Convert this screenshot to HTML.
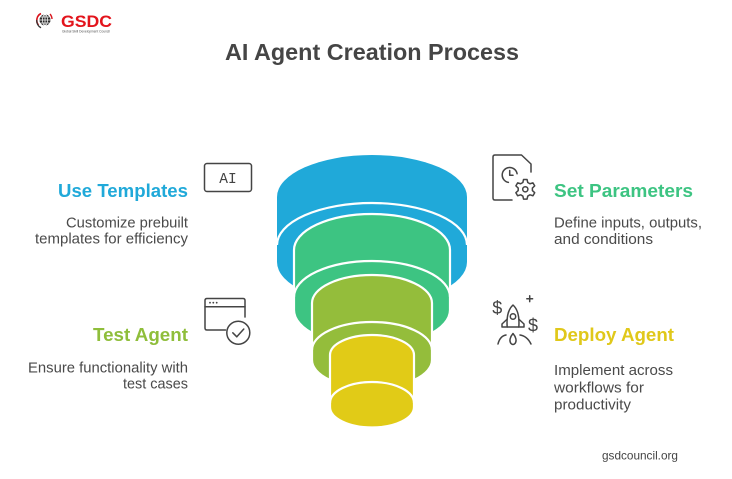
<!DOCTYPE html>
<html>
<head>
<meta charset="utf-8">
<style>
  html, body { margin: 0; padding: 0; background: #ffffff; }
  svg { display: block; }
  text { font-family: "Liberation Sans", Arial, sans-serif; }
</style>
</head>
<body>
<svg width="732" height="479" viewBox="0 0 732 479" xmlns="http://www.w3.org/2000/svg">
  <rect width="732" height="479" fill="#ffffff"/>

  <!-- Logo -->
  <g>
    <path d="M38.5 25 A7.5 7.5 0 0 1 41 13.5" fill="none" stroke="#d9141c" stroke-width="1.6"/>
    <path d="M36.8 20 A8 8 0 0 0 41 27.8" fill="none" stroke="#333" stroke-width="1.4"/>
    <circle cx="45" cy="20" r="5.5" fill="#2a2a2a"/>
    <path d="M39.5 20 H50.5 M45 14.5 V25.5 M40.5 17 H49.5 M40.5 23 H49.5" stroke="#ffffff" stroke-width="0.7"/>
    <ellipse cx="45" cy="20" rx="2.5" ry="5.5" fill="none" stroke="#ffffff" stroke-width="0.7"/>
    <path d="M50 14 A8 8 0 0 1 52 19" fill="none" stroke="#d9141c" stroke-width="1.4"/>
    <text x="61" y="27" font-size="16.5" font-weight="bold" fill="#e3141c" textLength="51" lengthAdjust="spacingAndGlyphs">GSDC</text>
    <text x="62" y="32.5" font-size="3.6" fill="#555" textLength="48" lengthAdjust="spacingAndGlyphs">Global Skill Development Council</text>
  </g>

  <!-- Title -->
  <text x="372" y="60" font-size="23" font-weight="bold" fill="#454545" text-anchor="middle" textLength="294" lengthAdjust="spacingAndGlyphs">AI Agent Creation Process</text>

  <!-- Funnel -->
  <!-- Blue -->
  <path d="M277 197 V262 A95 42 0 0 0 467 262 V197 A95 42 0 0 0 277 197 Z" fill="#20a9d9"/>
  <path d="M277 245 A95 42 0 0 1 467 245" fill="none" stroke="#ffffff" stroke-width="2.2"/>
  <!-- Green -->
  <path d="M294 250 V310 A78 36 0 0 0 450 310 V250 A78 36 0 0 0 294 250 Z" fill="#3dc482" stroke="#ffffff" stroke-width="2.2"/>
  <path d="M294 297 A78 36 0 0 1 450 297" fill="none" stroke="#ffffff" stroke-width="2.2"/>
  <!-- Olive -->
  <path d="M312 303 V360 A60 28 0 0 0 432 360 V303 A60 28 0 0 0 312 303 Z" fill="#94bd3b" stroke="#ffffff" stroke-width="2.2"/>
  <path d="M312 350 A60 28 0 0 1 432 350" fill="none" stroke="#ffffff" stroke-width="2.2"/>
  <!-- Yellow -->
  <path d="M330 355 V407 A42 20.5 0 0 0 414 407 V355 A42 20 0 0 0 330 355 Z" fill="#e1cb17" stroke="#ffffff" stroke-width="2.2"/>
  <path d="M330 403 A42 21 0 0 1 414 403" fill="none" stroke="#ffffff" stroke-width="2.2"/>

  <!-- Left labels -->
  <text x="188" y="197" font-size="18.6" font-weight="bold" fill="#20a9d9" text-anchor="end" textLength="130" lengthAdjust="spacingAndGlyphs">Use Templates</text>
  <text x="188" y="227.3" font-size="14.5" fill="#4a4a4a" text-anchor="end" textLength="122" lengthAdjust="spacingAndGlyphs">Customize prebuilt</text>
  <text x="188" y="243.5" font-size="14.5" fill="#4a4a4a" text-anchor="end" textLength="153" lengthAdjust="spacingAndGlyphs">templates for efficiency</text>

  <text x="188" y="341" font-size="18.6" font-weight="bold" fill="#8fbe3b" text-anchor="end" textLength="95" lengthAdjust="spacingAndGlyphs">Test Agent</text>
  <text x="188" y="372.3" font-size="14.5" fill="#4a4a4a" text-anchor="end" textLength="160" lengthAdjust="spacingAndGlyphs">Ensure functionality with</text>
  <text x="188" y="388.5" font-size="14.5" fill="#4a4a4a" text-anchor="end" textLength="65" lengthAdjust="spacingAndGlyphs">test cases</text>

  <!-- Right labels -->
  <text x="554" y="197" font-size="18.6" font-weight="bold" fill="#3dc482" textLength="139" lengthAdjust="spacingAndGlyphs">Set Parameters</text>
  <text x="554" y="227.3" font-size="14.5" fill="#4a4a4a" textLength="148" lengthAdjust="spacingAndGlyphs">Define inputs, outputs,</text>
  <text x="554" y="243.8" font-size="14.5" fill="#4a4a4a" textLength="99" lengthAdjust="spacingAndGlyphs">and conditions</text>

  <text x="554" y="341" font-size="18.6" font-weight="bold" fill="#e0c81a" textLength="120" lengthAdjust="spacingAndGlyphs">Deploy Agent</text>
  <text x="554" y="375" font-size="14.5" fill="#4a4a4a" textLength="119" lengthAdjust="spacingAndGlyphs">Implement across</text>
  <text x="554" y="392.3" font-size="14.5" fill="#4a4a4a" textLength="90" lengthAdjust="spacingAndGlyphs">workflows for</text>
  <text x="554" y="409.3" font-size="14.5" fill="#4a4a4a" textLength="77" lengthAdjust="spacingAndGlyphs">productivity</text>

  <text x="602" y="459.5" font-size="12" fill="#444" textLength="76" lengthAdjust="spacingAndGlyphs">gsdcouncil.org</text>

  <!-- Icon: AI box -->
  <g fill="none" stroke="#444" stroke-width="1.5" stroke-linecap="round" stroke-linejoin="round">
    <rect x="204.5" y="163.5" width="47" height="28" rx="2.5"/>
  </g>
  <text x="228" y="183" font-size="14.5" fill="#444" text-anchor="middle" style="font-family:'Liberation Mono', monospace;">AI</text>

  <!-- Icon: test window with check -->
  <g fill="none" stroke="#444" stroke-width="1.5" stroke-linecap="round" stroke-linejoin="round">
    <path d="M245 317 V300.5 Q245 298.5 243 298.5 H207 Q205 298.5 205 300.5 V328 Q205 330 207 330 H225.5"/>
    <path d="M205 306.8 H245"/>
    <circle cx="238.3" cy="332.7" r="11.5"/>
    <path d="M232.8 332.8 L236.8 336.8 L243.8 329"/>
  </g>
  <g fill="#444">
    <circle cx="210" cy="302.7" r="0.9"/>
    <circle cx="213.3" cy="302.7" r="0.9"/>
    <circle cx="216.7" cy="302.7" r="0.9"/>
  </g>

  <!-- Icon: document with clock and gear -->
  <g fill="none" stroke="#444" stroke-width="1.5" stroke-linecap="round" stroke-linejoin="round">
    <path d="M512 200 H495 Q493 200 493 198 V157 Q493 155 495 155 H521.5 L531 164 V172"/>
    <path d="M517.1 173.7 A7.5 7.5 0 1 0 508.4 182.4"/>
    <path d="M509.7 170.5 V175.3 H513"/>
    <path d="M522.84 182.53 L523.56 179.45 L527.04 179.45 L527.76 182.53 L529.93 183.78 L532.96 182.87 L534.70 185.88 L532.39 188.05 L532.39 190.55 L534.70 192.72 L532.96 195.73 L529.93 194.82 L527.76 196.07 L527.04 199.15 L523.56 199.15 L522.84 196.07 L520.67 194.82 L517.64 195.73 L515.90 192.72 L518.21 190.55 L518.21 188.05 L515.90 185.88 L517.64 182.87 L520.67 183.78 Z"/>
    <circle cx="525.3" cy="189.3" r="2.6"/>
  </g>

  <!-- Icon: rocket -->
  <g fill="none" stroke="#444" stroke-width="1.5" stroke-linecap="round" stroke-linejoin="round">
    <path d="M513 305 C507.5 310 506.5 318 507.2 327 H518.8 C519.5 318 518.5 310 513 305 Z"/>
    <circle cx="513" cy="316.5" r="2.7"/>
    <path d="M507.3 319 L502 324 V327 H507.2"/>
    <path d="M518.7 319 L524 324 V327 H518.8"/>
    <path d="M513 333.5 C510 337 509 341 511 343.5 Q513 345.5 515 343.5 C517 341 516 337 513 333.5 Z"/>
    <path d="M498 344 Q500 336 506 335"/>
    <path d="M520 335 Q527 336 531 344"/>
    <path d="M529.7 295.8 V301.6 M526.8 298.7 H532.6"/>
  </g>
  <text x="497.3" y="314" font-size="18" fill="#444" text-anchor="middle">$</text>
  <text x="533" y="331.3" font-size="18" fill="#444" text-anchor="middle">$</text>
</svg>
</body>
</html>
